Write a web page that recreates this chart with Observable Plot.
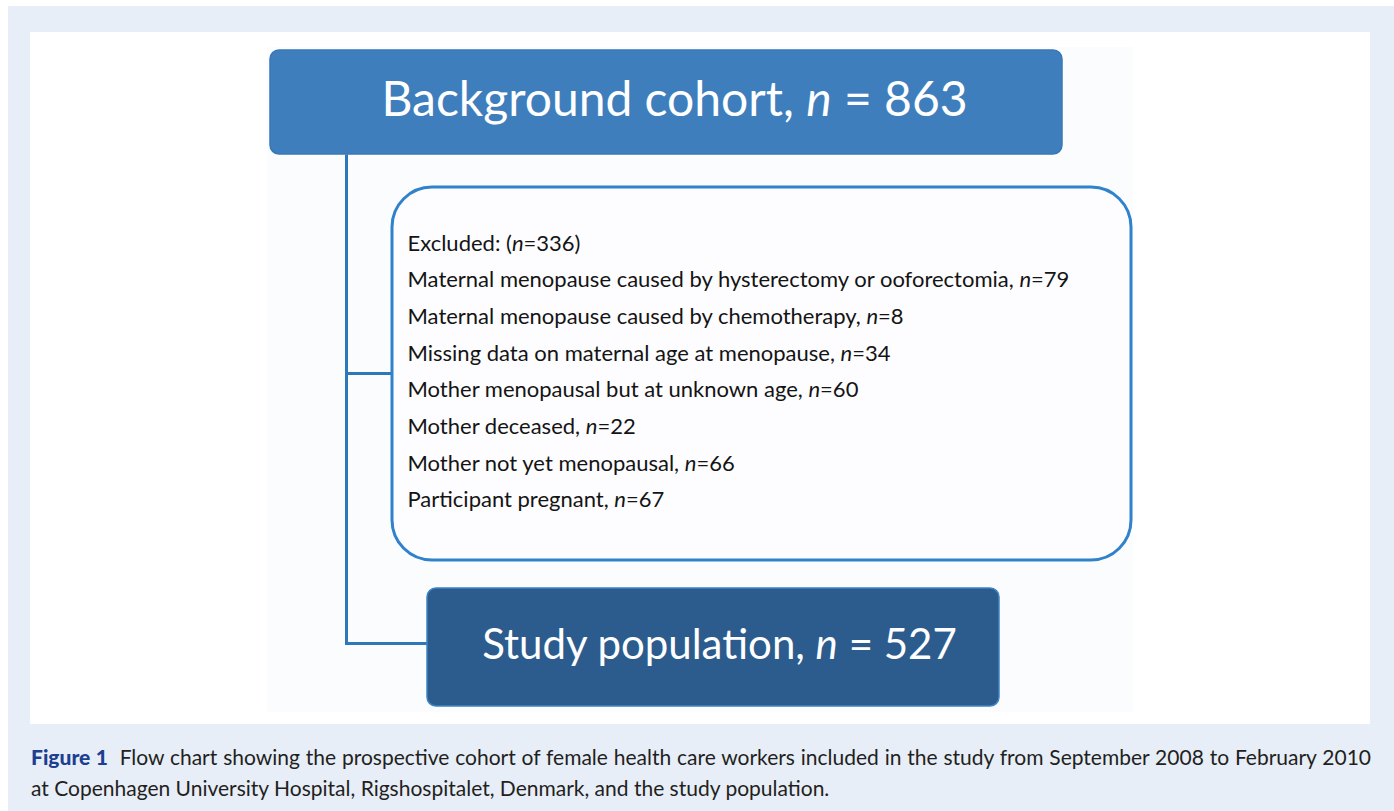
<!DOCTYPE html>
<html>
<head>
<meta charset="utf-8">
<script src="https://cdn.jsdelivr.net/npm/d3@7"></script>
<script src="https://cdn.jsdelivr.net/npm/@observablehq/plot@0.6"></script>
<style>
  html, body { margin: 0; padding: 0; background: #ffffff; }
  #page { position: absolute; left: 8px; top: 6px; width: 1386px; height: 805px; background: #e7eef8; }
  #panel { position: absolute; left: 30px; top: 32px; width: 1340px; height: 692px; background: #ffffff; }
  #caption { position: absolute; left: 31px; top: 741px; width: 1340px; font-family: Lato, "Open Sans", sans-serif;
             font-size: 21px; line-height: 31px; color: #231f20; }
  #caption .l1 { text-align: justify; text-align-last: justify; white-space: nowrap; }
  #caption b { color: #1d3f8f; font-weight: 900; }
</style>
</head>
<body>
<div id="page"></div>
<div id="panel"></div>
<div id="caption"><div class="l1"><b>Figure 1</b>&nbsp; Flow chart showing the prospective cohort of female health care workers included in the study from September 2008 to February 2010</div><div class="l2">at Copenhagen University Hospital, Rigshospitalet, Denmark, and the study population.</div></div>
<script>
// ---- data ----
const stageLabels = ["Background cohort", "Study population"];
const stageCounts = [863, 527];
const excludedTotal = 336;
const exclusionReasons = [
  "Maternal menopause caused by hysterectomy or ooforectomia",
  "Maternal menopause caused by chemotherapy",
  "Missing data on maternal age at menopause",
  "Mother menopausal but at unknown age",
  "Mother deceased",
  "Mother not yet menopausal",
  "Participant pregnant"
];
const exclusionCounts = [79, 8, 34, 60, 22, 66, 67];

// ---- layout (panel pixel coordinates) ----
const W = 1340, H = 692;
const layout = {
  stages: [
    {x1: 240, x2: 1032, y1: 18, y2: 122, tx: 644, ty: 68, fill: "#3e7ebd", stroke: "#3a77b5", size: 48},
    {x1: 397, x2: 969, y1: 556, y2: 674, tx: 689, ty: 613, fill: "#2c5c8d", stroke: "#3f82c4", size: 42}
  ],
  excl: {x1: 362, x2: 1101, y1: 155, y2: 528, r: 40, tx: 377, ty0: 211, dy: 36.7, size: 22},
  spineX: 316, branchY: 341, bottomY: 611
};

const stages = stageLabels.map((label, i) => ({
  ...layout.stages[i],
  text: `${label}, n = ${stageCounts[i]}`
}));
const exclLines = [`Excluded: (n=${excludedTotal})`]
  .concat(exclusionReasons.map((r, i) => `${r}, n=${exclusionCounts[i]}`))
  .map((text, i) => ({text, x: layout.excl.tx, y: layout.excl.ty0 + i * layout.excl.dy}));

const ex = layout.excl;
const connectors = [
  {x1: layout.spineX, y1: layout.stages[0].y2, x2: layout.spineX, y2: layout.bottomY},
  {x1: layout.spineX - 1.5, y1: layout.branchY, x2: ex.x1, y2: layout.branchY},
  {x1: layout.spineX - 1.5, y1: layout.bottomY, x2: layout.stages[1].x1, y2: layout.bottomY}
];

const chart = Plot.plot({
  width: W, height: H, margin: 0,
  style: {background: "transparent", overflow: "visible"},
  x: {domain: [0, W], range: [0, W], axis: null},
  y: {domain: [0, H], range: [0, H], axis: null},
  marks: [
    Plot.rect([{x1: 237, x2: 1103, y1: 15, y2: 680}], {x1: "x1", x2: "x2", y1: "y1", y2: "y2", fill: "#fbfcfe"}),
    Plot.link(connectors, {x1: "x1", y1: "y1", x2: "x2", y2: "y2", stroke: "#2d77bb", strokeWidth: 3}),
    Plot.rect([ex], {x1: "x1", x2: "x2", y1: "y1", y2: "y2", rx: ex.r, fill: "#fdfdff", stroke: "#2f82cb", strokeWidth: 3}),
    Plot.rect(stages, {x1: "x1", x2: "x2", y1: "y1", y2: "y2", rx: 9, fill: "fill", stroke: "stroke", strokeWidth: 1.5}),
    Plot.text(stages, {x: "tx", y: "ty", text: "text", fill: "white", fontSize: d => d.size, fontFamily: "Lato", textAnchor: "middle", lineAnchor: "middle"}),
    Plot.text(exclLines, {x: "x", y: "y", text: "text", fill: "#141414", fontSize: ex.size, fontFamily: "Lato", textAnchor: "start", lineAnchor: "middle"})
  ]
});

// italicise the statistical symbol n
d3.select(chart).selectAll("text").each(function() {
  const el = d3.select(this);
  if (!el.select("tspan").empty()) return;
  const s = this.textContent;
  const parts = s.split(/(\bn)(?=\s?=)/);
  if (parts.length < 2) return;
  el.text(null);
  parts.forEach(p => {
    if (!p) return;
    const t = el.append("tspan").text(p);
    if (p === "n") t.attr("font-style", "italic");
  });
});

document.getElementById("panel").appendChild(chart);
</script>
</body>
</html>
